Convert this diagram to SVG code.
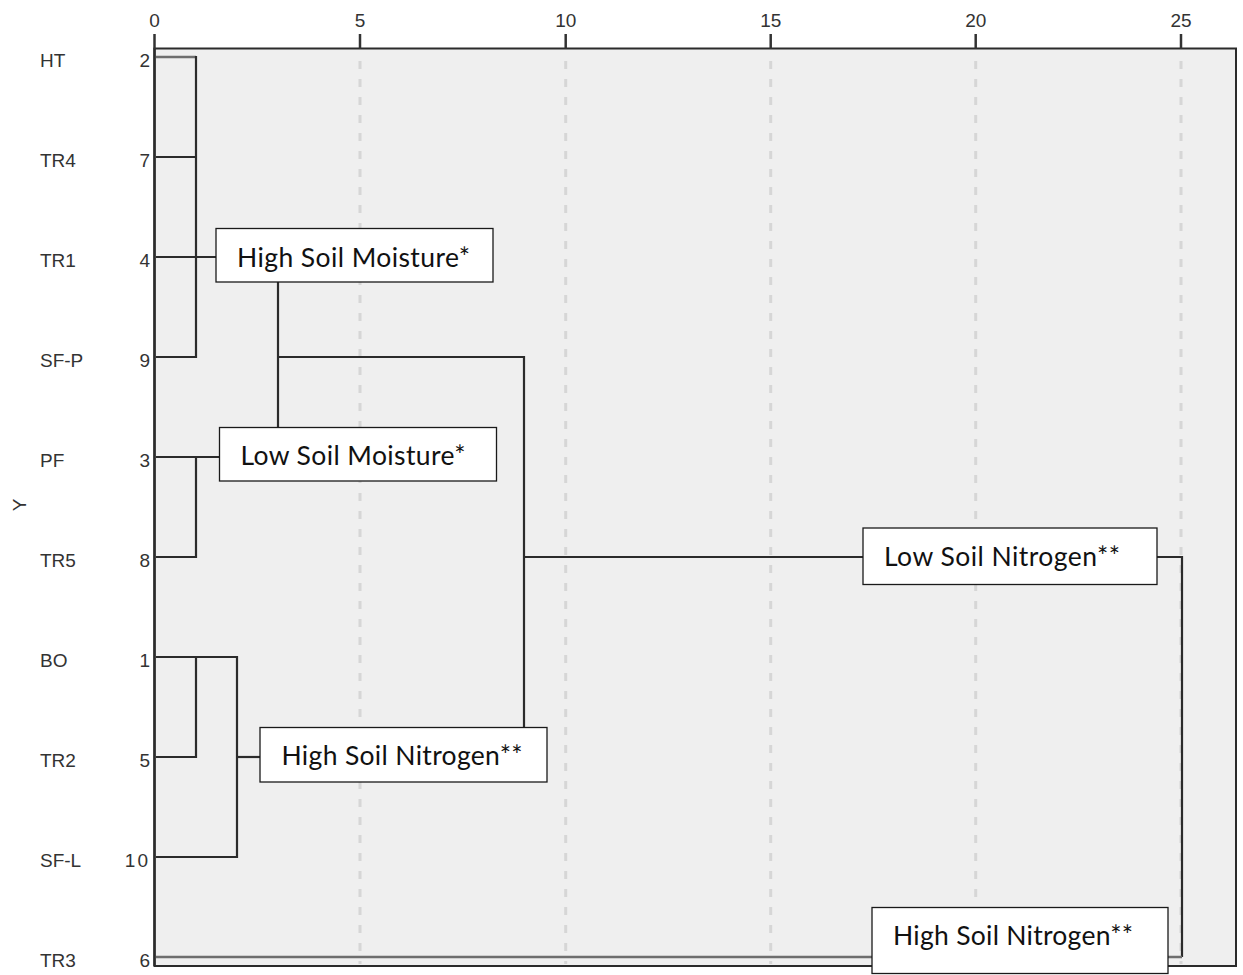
<svg xmlns="http://www.w3.org/2000/svg" width="1243" height="975" viewBox="0 0 1243 975">
  <style>
    .axis { font-family: "Liberation Sans", Arial, sans-serif; font-size: 19px; fill: #333333; }
    .tick { stroke: #333333; stroke-width: 2.5; }
    .grid { stroke: #d6d6d6; stroke-width: 3; stroke-dasharray: 8 10; }
    .link { fill: none; stroke: #2b2b2b; stroke-width: 2.2; }
    .link-soft { fill: none; stroke: #6e6e6e; stroke-width: 2.5; }
    .box rect { fill: #ffffff; stroke: #1a1a1a; stroke-width: 1.3; }
    .box text { font-family: Lato, "Open Sans", sans-serif; font-size: 26.5px; fill: #111111; }
  </style>

  <rect x="0" y="0" width="1243" height="975" fill="#ffffff"/>

  <!-- plot area -->
  <g id="plot-area">
    <rect x="154.5" y="48.5" width="1081.5" height="917.5" fill="#efefef" stroke="#2b2b2b" stroke-width="2"/>
    <line x1="154.5" y1="48.5" x2="154.5" y2="966" stroke="#2b2b2b" stroke-width="2.5"/>
  </g>

  <!-- gridlines -->
  <g id="grid">
    <line class="grid" x1="360" y1="61" x2="360" y2="964"/>
    <line class="grid" x1="565.7" y1="61" x2="565.7" y2="964"/>
    <line class="grid" x1="770.7" y1="61" x2="770.7" y2="964"/>
    <line class="grid" x1="975.7" y1="61" x2="975.7" y2="964"/>
    <line class="grid" x1="1181" y1="61" x2="1181" y2="964"/>
  </g>

  <!-- distance axis -->
  <g id="x-axis">
    <line class="tick" x1="154.5" y1="34" x2="154.5" y2="49"/>
    <line class="tick" x1="360" y1="34" x2="360" y2="49"/>
    <line class="tick" x1="565.7" y1="34" x2="565.7" y2="49"/>
    <line class="tick" x1="770.7" y1="34" x2="770.7" y2="49"/>
    <line class="tick" x1="975.7" y1="34" x2="975.7" y2="49"/>
    <line class="tick" x1="1181" y1="34" x2="1181" y2="49"/>
    <text class="axis" x="154.5" y="26.5" text-anchor="middle">0</text>
    <text class="axis" x="360" y="26.5" text-anchor="middle">5</text>
    <text class="axis" x="565.7" y="26.5" text-anchor="middle">10</text>
    <text class="axis" x="770.7" y="26.5" text-anchor="middle">15</text>
    <text class="axis" x="975.7" y="26.5" text-anchor="middle">20</text>
    <text class="axis" x="1181" y="26.5" text-anchor="middle">25</text>
  </g>

  <text id="y-title" class="axis" x="0" y="0" text-anchor="middle" transform="translate(26,505) rotate(-90)">Y</text>

  <!-- leaves -->
  <g id="leaf-HT"><text class="axis" x="40" y="66.5">HT</text><text class="axis" x="150" y="66.5" text-anchor="end">2</text></g>
  <g id="leaf-TR4"><text class="axis" x="40" y="166.5">TR4</text><text class="axis" x="150" y="166.5" text-anchor="end">7</text></g>
  <g id="leaf-TR1"><text class="axis" x="40" y="266.5">TR1</text><text class="axis" x="150" y="266.5" text-anchor="end">4</text></g>
  <g id="leaf-SF-P"><text class="axis" x="40" y="366.5">SF-P</text><text class="axis" x="150" y="366.5" text-anchor="end">9</text></g>
  <g id="leaf-PF"><text class="axis" x="40" y="466.5">PF</text><text class="axis" x="150" y="466.5" text-anchor="end">3</text></g>
  <g id="leaf-TR5"><text class="axis" x="40" y="566.5">TR5</text><text class="axis" x="150" y="566.5" text-anchor="end">8</text></g>
  <g id="leaf-BO"><text class="axis" x="40" y="666.5">BO</text><text class="axis" x="150" y="666.5" text-anchor="end">1</text></g>
  <g id="leaf-TR2"><text class="axis" x="40" y="766.5">TR2</text><text class="axis" x="150" y="766.5" text-anchor="end">5</text></g>
  <g id="leaf-SF-L"><text class="axis" x="40" y="866.5">SF-L</text><text class="axis" x="150" y="866.5" text-anchor="end" letter-spacing="2">10</text></g>
  <g id="leaf-TR3"><text class="axis" x="40" y="966.5">TR3</text><text class="axis" x="150" y="966.5" text-anchor="end">6</text></g>

  <!-- dendrogram links -->
  <g id="connectors">
    <!-- HT, TR4, TR1, SF-P -->
    <line class="link-soft" x1="156" y1="57" x2="196" y2="57"/>
    <polyline class="link" points="156,157 196,157"/>
    <polyline class="link" points="156,257 216,257"/>
    <polyline class="link" points="156,357 196,357"/>
    <line class="link" x1="196" y1="56" x2="196" y2="358"/>
    <!-- PF, TR5 -->
    <polyline class="link" points="156,457 220,457"/>
    <polyline class="link" points="156,557 196,557 196,457"/>
    <!-- moisture clusters joined -->
    <line class="link" x1="278" y1="282" x2="278" y2="427"/>
    <polyline class="link" points="278,357 524,357 524,727"/>
    <!-- BO, TR2, SF-L -->
    <polyline class="link" points="156,657 237,657 237,857 156,857"/>
    <polyline class="link" points="156,757 196,757 196,657"/>
    <line class="link" x1="237" y1="757" x2="260" y2="757"/>
    <!-- top-level joins -->
    <line class="link" x1="524" y1="557" x2="863" y2="557"/>
    <polyline class="link" points="1157,557 1182,557 1182,957"/>
    <line class="link-soft" x1="156" y1="957" x2="1182" y2="957"/>
  </g>

  <!-- cluster labels -->
  <g id="label-high-moisture" class="box">
    <rect x="216" y="228.5" width="277" height="53.5"/>
    <text x="237" y="266.5" textLength="233">High Soil Moisture*</text>
  </g>
  <g id="label-low-moisture" class="box">
    <rect x="219.5" y="427.5" width="277" height="53.5"/>
    <text x="240.5" y="465" textLength="225">Low Soil Moisture*</text>
  </g>
  <g id="label-high-nitrogen-a" class="box">
    <rect x="260" y="727.5" width="287" height="54.5"/>
    <text x="281.5" y="765" textLength="241">High Soil Nitrogen**</text>
  </g>
  <g id="label-low-nitrogen" class="box">
    <rect x="863" y="528" width="294" height="56.5"/>
    <text x="884" y="566" textLength="236">Low Soil Nitrogen**</text>
  </g>
  <g id="label-high-nitrogen-b" class="box">
    <rect x="872" y="907.5" width="296" height="66"/>
    <text x="893" y="945" textLength="240">High Soil Nitrogen**</text>
  </g>
</svg>
